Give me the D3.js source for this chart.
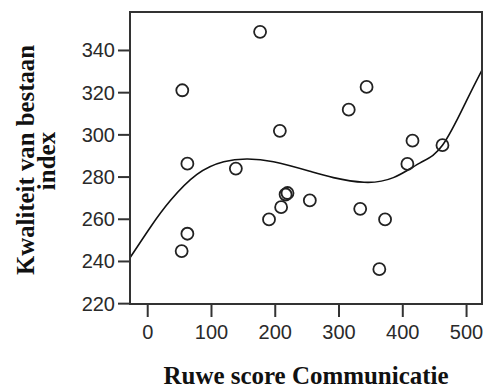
<!DOCTYPE html>
<html>
<head>
<meta charset="utf-8">
<script src="https://cdn.jsdelivr.net/npm/d3@7"></script>
<style>
  body { margin: 0; background: #fff; }
  .axis text { font-family: Arial, 'Liberation Sans', sans-serif; font-size: 20px; fill: #2a2a2a; }
  .axis line { stroke: #333; stroke-width: 2; }
  .axis path { display: none; }
  .axis-title { font-family: 'Times New Roman', 'Liberation Serif', serif; font-weight: bold; font-size: 25px; fill: #111; }
</style>
</head>
<body>
<div id="chart"></div>
<script>
const margin = { top: 12, left: 130, right: 3, bottom: 85 }
const width = 485 - margin.left - margin.right
const height = 389 - margin.top - margin.bottom

// Ruwe score Communicatie (x) vs Kwaliteit van bestaan index (y)
const communicatie = [177, 55, 208, 344, 316, 416, 463, 63, 139, 220, 217, 210, 191, 63, 54, 255, 408, 334, 373, 364]
const kwaliteit = [348.6, 320.9, 301.7, 322.5, 311.7, 297.0, 294.9, 286.1, 283.8, 272.2, 271.5, 265.5, 259.7, 252.9, 244.7, 268.7, 286.0, 264.7, 259.7, 236.1]

// fit line
const fitX = [-27, 5, 36, 78, 120, 156, 198, 255, 292, 340, 386, 428, 463, 500, 525]
const fitY = [241.5, 256, 268.5, 281, 287, 288.3, 287, 282.5, 279.5, 277.3, 279.5, 286.5, 294.8, 315.5, 330.5]

const xTicks = [0, 100, 200, 300, 400, 500]
const yTicks = [220, 240, 260, 280, 300, 320, 340]

const points = communicatie.map((d, i) => ({ x: d, y: kwaliteit[i] }))
const fit = fitX.map((d, i) => ({ x: d, y: fitY[i] }))

const svg = d3
  .select('#chart')
  .append('svg')
  .attr('width', width + margin.left + margin.right)
  .attr('height', height + margin.top + margin.bottom)
  .append('g')
  .attr('transform', 'translate(' + margin.left + ',' + margin.top + ')')

const xPositionScale = d3.scaleLinear().domain([-27, 525]).range([0, width])
const yPositionScale = d3.scaleLinear().domain([219.6, 358]).range([height, 0])

const clip = svg.append('clipPath').attr('id', 'plot-clip')
clip.append('rect').attr('width', width).attr('height', height)

const line = d3
  .line()
  .x(d => xPositionScale(d.x))
  .y(d => yPositionScale(d.y))
  .curve(d3.curveNatural)

svg
  .append('path')
  .datum(fit)
  .attr('d', line)
  .attr('fill', 'none')
  .attr('stroke', '#111')
  .attr('stroke-width', 1.6)
  .attr('clip-path', 'url(#plot-clip)')

svg
  .selectAll('.point')
  .data(points)
  .enter()
  .append('circle')
  .attr('class', 'point')
  .attr('cx', d => xPositionScale(d.x))
  .attr('cy', d => yPositionScale(d.y))
  .attr('r', 6)
  .attr('fill', 'none')
  .attr('stroke', '#222')
  .attr('stroke-width', 1.8)

const xAxis = d3.axisBottom(xPositionScale).tickValues(xTicks).tickSize(13).tickSizeOuter(0).tickPadding(8)
svg
  .append('g')
  .attr('class', 'axis x-axis')
  .attr('transform', 'translate(0,' + height + ')')
  .call(xAxis)

const yAxis = d3.axisLeft(yPositionScale).tickValues(yTicks).tickSize(12).tickSizeOuter(0).tickPadding(3)
svg
  .append('g')
  .attr('class', 'axis y-axis')
  .call(yAxis)

svg.selectAll('.y-axis text').attr('dy', '0.35em')

// frame
svg
  .append('rect')
  .attr('x', 0)
  .attr('y', 0)
  .attr('width', width)
  .attr('height', height)
  .attr('fill', 'none')
  .attr('stroke', '#333')
  .attr('stroke-width', 2)

svg
  .append('text')
  .attr('class', 'axis-title')
  .attr('text-anchor', 'middle')
  .attr('x', width / 2)
  .attr('y', height + 80)
  .attr('textLength', 285)
  .attr('lengthAdjust', 'spacingAndGlyphs')
  .text('Ruwe score Communicatie')

svg
  .append('text')
  .attr('class', 'axis-title')
  .attr('text-anchor', 'middle')
  .attr('transform', 'translate(' + (-96) + ',' + (160 - margin.top) + ') rotate(-90)')
  .attr('textLength', 230)
  .attr('lengthAdjust', 'spacingAndGlyphs')
  .text('Kwaliteit van bestaan')

svg
  .append('text')
  .attr('class', 'axis-title')
  .attr('text-anchor', 'middle')
  .attr('transform', 'translate(' + (-75) + ',' + (161 - margin.top) + ') rotate(-90)')
  .text('index')
</script>
</body>
</html>
